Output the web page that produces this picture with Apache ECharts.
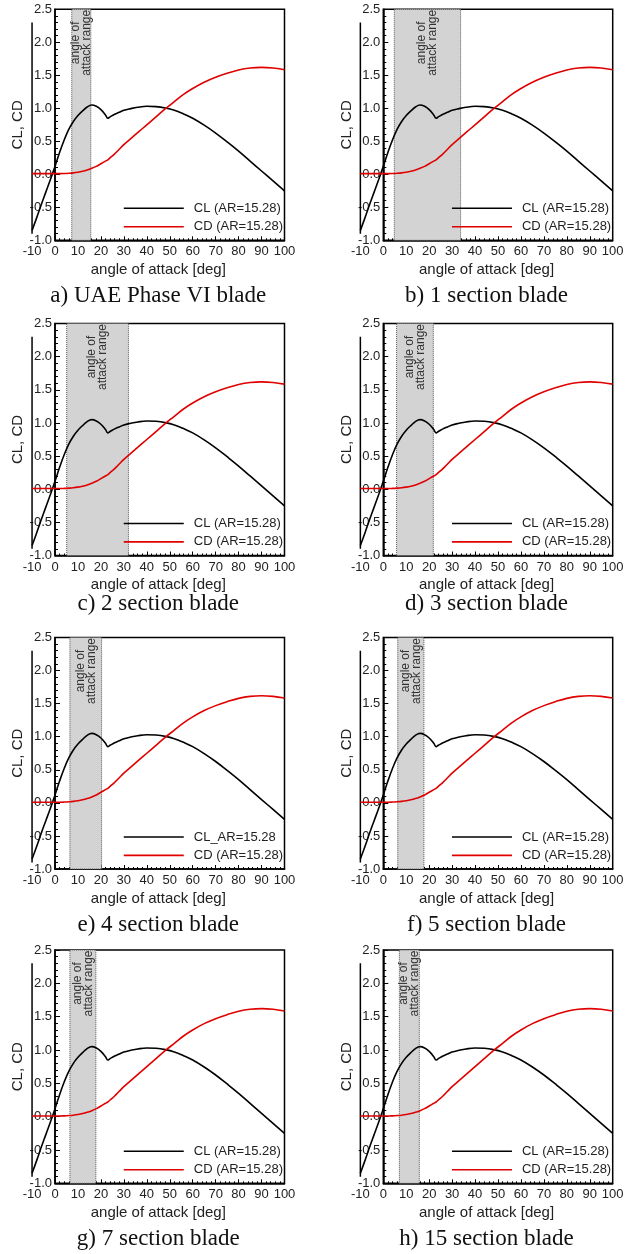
<!DOCTYPE html>
<html><head><meta charset="utf-8">
<script src="https://cdn.jsdelivr.net/npm/echarts@6/dist/echarts.min.js"></script>
<style>html,body{margin:0;padding:0;background:#fff}#c{width:635px;height:1254px}</style>
</head><body><div id="c"></div>
<script>
// ---------------- data ----------------
const ANGLES = [-10,-8,-6,-4,-2,0,2,4,6,8,10,12,14,16,18,20,22,23,24,26,28,30,33,36,40,44,48,52,56,60,65,70,75,80,85,90,95,100];
const CL = [-0.85,-0.66,-0.46,-0.27,-0.08,0.12,0.33,0.52,0.68,0.80,0.89,0.96,1.02,1.05,1.03,0.98,0.90,0.85,0.87,0.91,0.94,0.97,0.995,1.015,1.03,1.025,1.005,0.97,0.915,0.85,0.745,0.625,0.49,0.35,0.20,0.05,-0.10,-0.25];
const CD = [0.01,0.01,0.01,0.01,0.01,0.01,0.01,0.012,0.016,0.022,0.032,0.046,0.065,0.09,0.12,0.16,0.20,0.22,0.25,0.31,0.38,0.45,0.54,0.63,0.75,0.87,0.99,1.10,1.21,1.30,1.395,1.47,1.53,1.58,1.61,1.62,1.61,1.585];
const CAPTIONS = ['a) UAE Phase VI blade','b) 1 section blade','c) 2 section blade','d) 3 section blade','e) 4 section blade','f) 5 section blade','g) 7 section blade','h) 15 section blade'];
const CL_NAMES = ['CL (AR=15.28)','CL (AR=15.28)','CL (AR=15.28)','CL (AR=15.28)','CL_AR=15.28','CL (AR=15.28)','CL (AR=15.28)','CL (AR=15.28)'];
const CD_NAME = 'CD (AR=15.28)';
const RANGE_START = [7.3, 4.8, 5.1, 5.8, 6.5, 6.3, 6.5, 7.0];
const RANGE_END   = [15.6, 33.7, 32.0, 21.8, 20.3, 17.7, 17.8, 15.7];
const RANGE_LABEL = 'angle of\nattack range';
const X_MIN = -10, X_FRAME_MIN = 0, X_MAX = 100, X_STEP = 10;
const Y_MIN = -1.0, Y_MAX = 2.5, Y_STEP = 0.5;
const RULE_X = [-10, -10];
const RULE_Y = [2.3, -0.9];
const X_NAME = 'angle of attack [deg]';
const Y_NAME = 'CL, CD';

// ---------------- layout ----------------
const COLS = [{x0: 55, x100: 284.5}, {x0: 383.3, x100: 612.7}];
const ROWS = [
  {top: 9.3,  bottom: 240.3, cap: 297},
  {top: 323.5, bottom: 555.5, cap: 605.5},
  {top: 637.5, bottom: 869,   cap: 926},
  {top: 950,  bottom: 1183.3, cap: 1240}
];
const W = 635, H = 1254;
const SANS = '"Liberation Sans", Arial, sans-serif';
const SERIF = '"Liberation Serif", "Times New Roman", serif';
const TXT = '#222';

const grid = [], xAxis = [], yAxis = [], series = [], legend = [], title = [];
for (let p = 0; p < 8; p++) {
  const c = COLS[p % 2], r = ROWS[Math.floor(p / 2)];
  const pxPer = (c.x100 - c.x0) / (X_MAX - X_FRAME_MIN);
  const xm10 = c.x0 + (X_MIN - X_FRAME_MIN) * pxPer;
  const h = r.bottom - r.top;
  const gOuter = 2 * p, gFrame = 2 * p + 1;
  grid.push({left: xm10, width: c.x100 - xm10, top: r.top, height: h, show: false});
  grid.push({left: c.x0, width: c.x100 - c.x0, top: r.top, height: h, show: true,
             borderColor: '#000', borderWidth: 1.5, backgroundColor: 'transparent'});
  // outer axes (labels + names)
  xAxis.push({type: 'value', gridIndex: gOuter, min: X_MIN, max: X_MAX, interval: X_STEP,
    axisLine: {show: false, onZero: false}, axisTick: {show: false}, splitLine: {show: false},
    axisLabel: {fontFamily: SANS, fontSize: 13, color: TXT, margin: 5},
    name: X_NAME, nameLocation: 'middle', nameGap: 22,
    nameTextStyle: {fontFamily: SANS, fontSize: 15, color: TXT}});
  yAxis.push({type: 'value', gridIndex: gOuter, min: Y_MIN, max: Y_MAX, interval: Y_STEP, show: false});
  // frame axes
  xAxis.push({type: 'value', gridIndex: gFrame, min: X_FRAME_MIN, max: X_MAX, interval: X_STEP,
    axisLine: {show: true, onZero: false, lineStyle: {color: '#000', width: 1.5}},
    axisTick: {show: true, inside: true, length: 4, lineStyle: {color: '#000'}},
    minorTick: {show: true, splitNumber: 5, length: 2, lineStyle: {color: '#000'}},
    axisLabel: {show: false}, splitLine: {show: false}});
  yAxis.push({type: 'value', gridIndex: gFrame, min: Y_MIN, max: Y_MAX, interval: Y_STEP,
    axisLine: {show: true, onZero: false, lineStyle: {color: '#000', width: 1.5}},
    axisTick: {show: true, inside: true, length: 5, lineStyle: {color: '#000'}},
    minorTick: {show: true, splitNumber: 5, length: 3, lineStyle: {color: '#000'}},
    splitLine: {show: false},
    axisLabel: {fontFamily: SANS, fontSize: 13, color: TXT, margin: 3, formatter: v => v.toFixed(1)},
    name: Y_NAME, nameLocation: 'middle', nameGap: 27,
    nameTextStyle: {fontFamily: SANS, fontSize: 15, color: TXT}});

  const xi = 2 * p, yi = 2 * p;
  series.push({type: 'line', name: CL_NAMES[p], xAxisIndex: xi, yAxisIndex: yi,
    data: ANGLES.map((a, i) => [a, CL[i]]), smooth: 0.4, showSymbol: false, symbol: 'none',
    lineStyle: {color: '#000', width: 1.6}, itemStyle: {color: '#000'}, z: 5, silent: true,
    markArea: {silent: true, z: 1,
      itemStyle: {color: '#d3d3d3', borderColor: '#555', borderWidth: 1, borderType: 'dotted'},
      label: {show: true, position: ['50%', 34], rotate: 90, align: 'center', verticalAlign: 'middle',
        fontFamily: SANS, fontSize: 12, lineHeight: 11, color: '#333'},
      data: [[{xAxis: RANGE_START[p], name: RANGE_LABEL}, {xAxis: RANGE_END[p]}]]}});
  series.push({type: 'line', name: CD_NAME, xAxisIndex: xi, yAxisIndex: yi,
    data: ANGLES.map((a, i) => [a, CD[i]]), smooth: 0.4, showSymbol: false, symbol: 'none',
    lineStyle: {color: '#e00000', width: 1.6}, itemStyle: {color: '#e00000'}, z: 5, silent: true});
  series.push({type: 'line', name: 'rule', xAxisIndex: xi, yAxisIndex: yi,
    data: RULE_X.map((x, i) => [x, RULE_Y[i]]), showSymbol: false, symbol: 'none',
    lineStyle: {color: '#000', width: 1.5}, silent: true, z: 4});

  legend.push({data: [CL_NAMES[p], CD_NAME], orient: 'vertical', align: 'left',
    right: W - c.x100 + 1.5, top: r.bottom - 39, padding: 0, itemGap: 4.4,
    icon: 'rect', itemWidth: 60, itemHeight: 1.6, selectedMode: false,
    textStyle: {fontFamily: SANS, fontSize: 13, lineHeight: 14, color: TXT, padding: [0, 0, 0, 5]}});
  title.push({text: CAPTIONS[p], left: (xm10 + c.x100) / 2, top: r.cap - 13, textAlign: 'center',
    padding: 0, textStyle: {fontFamily: SERIF, fontSize: 23, fontWeight: 'normal', color: '#111'}});
}

const chart = echarts.init(document.getElementById('c'), null, {renderer: 'canvas'});
chart.setOption({animation: false, backgroundColor: '#fff', grid, xAxis, yAxis, series, legend, title});
</script></body></html>
